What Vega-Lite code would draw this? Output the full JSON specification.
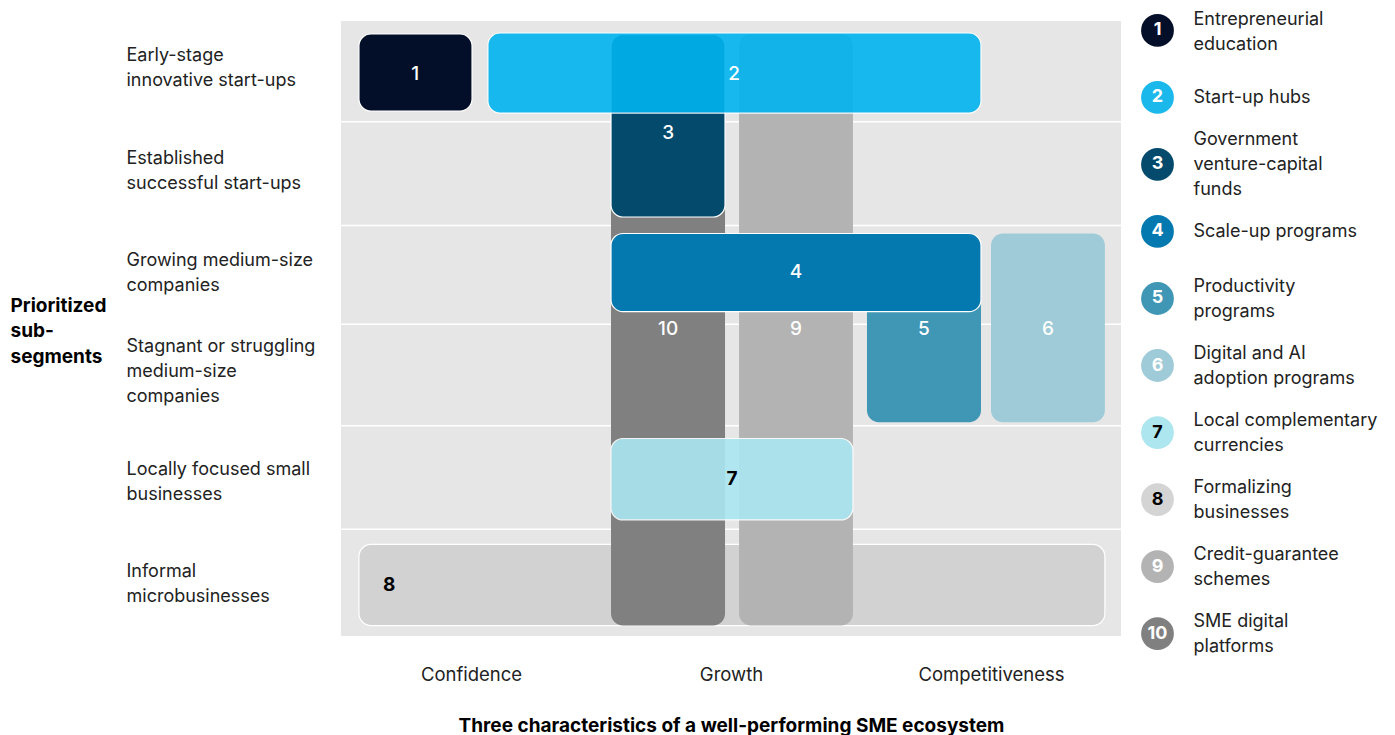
{
  "$schema": "https://vega.github.io/schema/vega-lite/v6.json",
  "background": "white",
  "padding": {"left": 10, "top": 10, "right": 5, "bottom": 5},
  "spacing": 17,
  "config": {
    "font": "Inter",
    "view": {"stroke": null},
    "axis": {"domain": false, "ticks": false, "tickSize": 0, "grid": false}
  },
  "resolve": {"scale": {"color": "independent", "x": "independent", "y": "independent"}},
  "datasets": {
    "boxes": [
      {"id": "8", "x0": 0.069, "x1": 2.938, "y0": 5.107, "y1": 5.898, "lx": 0.185, "ly": 5.502},
      {"id": "10", "x0": 1.0385, "x1": 1.477, "y0": 0.127, "y1": 5.898, "lx": 1.258, "ly": 3.0},
      {"id": "9", "x0": 1.531, "x1": 1.969, "y0": 0.127, "y1": 5.898, "lx": 1.75, "ly": 3.0},
      {"id": "3", "x0": 1.0385, "x1": 1.477, "y0": 0.13, "y1": 1.912, "lx": 1.258, "ly": 1.093},
      {"id": "5", "x0": 2.023, "x1": 2.4615, "y0": 2.073, "y1": 3.915, "lx": 2.242, "ly": 3.0},
      {"id": "6", "x0": 2.5, "x1": 2.938, "y0": 2.073, "y1": 3.915, "lx": 2.719, "ly": 3.0},
      {"id": "1", "x0": 0.069, "x1": 0.504, "y0": 0.127, "y1": 0.878, "lx": 0.285, "ly": 0.517},
      {"id": "2", "x0": 0.565, "x1": 2.4615, "y0": 0.117, "y1": 0.898, "lx": 1.512, "ly": 0.517},
      {"id": "4", "x0": 1.0385, "x1": 2.4615, "y0": 2.073, "y1": 2.836, "lx": 1.75, "ly": 2.449},
      {"id": "7", "x0": 1.0385, "x1": 1.969, "y0": 4.073, "y1": 4.868, "lx": 1.504, "ly": 4.468}
    ],
    "rows": [{"y": 0.982}, {"y": 1.995}, {"y": 2.959}, {"y": 3.948}, {"y": 4.959}],
    "legend": [
      {"num": "1", "label": "Entrepreneurial|education"},
      {"num": "2", "label": "Start-up hubs"},
      {"num": "3", "label": "Government|venture-capital|funds"},
      {"num": "4", "label": "Scale-up programs"},
      {"num": "5", "label": "Productivity|programs"},
      {"num": "6", "label": "Digital and AI|adoption programs"},
      {"num": "7", "label": "Local complementary|currencies"},
      {"num": "8", "label": "Formalizing|businesses"},
      {"num": "9", "label": "Credit-guarantee|schemes"},
      {"num": "10", "label": "SME digital|platforms"}
    ]
  },
  "hconcat": [
    {
      "width": 780,
      "height": 615,
      "view": {"fill": "#e6e6e6", "stroke": null},
      "layer": [
        {
          "data": {"name": "rows"},
          "mark": {"type": "rule", "color": "white", "strokeWidth": 1.5},
          "encoding": {
            "y": {
              "field": "y", "type": "quantitative",
              "scale": {"domain": [0, 6], "reverse": true, "nice": false, "zero": false},
              "axis": {
                "values": [0.332, 1.337, 2.341, 3.18, 4.371, 5.366],
                "labelExpr": "datum.value < 1 ? ['Early-stage', 'innovative start-ups'] : datum.value < 2 ? ['Established', 'successful start-ups'] : datum.value < 3 ? ['Growing medium-size', 'companies'] : datum.value < 4 ? ['Stagnant or struggling', 'medium-size', 'companies'] : datum.value < 5 ? ['Locally focused small', 'businesses'] : ['Informal', 'microbusinesses']",
                "labelAlign": "left", "labelBaseline": "middle", "labelPadding": 215,
                "labelFontSize": 18, "labelColor": "#222222", "labelLineHeight": 25,
                "labelLimit": 400, "labelOverlap": false, "labelFlush": false,
                "title": ["Prioritized", "sub-", "segments"],
                "titleAngle": 0, "titleAlign": "left", "titleBaseline": "middle",
                "titleX": -331, "titleY": 284, "titleFontSize": 19, "titleFontWeight": "bold",
                "titleColor": "#000000", "titleLineHeight": 25.5
              }
            }
          }
        },
        {
          "data": {"name": "boxes"},
          "mark": {"type": "rect", "cornerRadius": 12, "stroke": "white"},
          "encoding": {
            "x": {
              "field": "x0", "type": "quantitative",
              "scale": {"domain": [0, 3], "nice": false, "zero": false},
              "axis": {
                "values": [0.5, 1.5, 2.5],
                "labelExpr": "datum.value < 1 ? 'Confidence' : datum.value < 2 ? 'Growth' : 'Competitiveness'",
                "labelFontSize": 18.5, "labelColor": "#222222", "labelPadding": 38,
                "labelBaseline": "middle", "labelFlush": false, "labelOverlap": false,
                "title": "Three characteristics of a well-performing SME ecosystem",
                "titleFontSize": 19, "titleFontWeight": "bold", "titleColor": "#000000",
                "titleY": 89, "titleBaseline": "middle"
              }
            },
            "x2": {"field": "x1"},
            "y": {"field": "y0", "type": "quantitative"},
            "y2": {"field": "y1"},
            "color": {
              "field": "id", "type": "nominal",
              "scale": {
                "domain": ["1", "2", "3", "4", "5", "6", "7", "8", "9", "10"],
                "range": ["#030f28", "#00b4ee", "#044a6c", "#0479b0", "#3f96b5", "#9ecbd7", "#aae6f0", "#d2d2d2", "#b3b3b3", "#808080"]
              },
              "legend": null
            },
            "opacity": {"condition": {"test": "datum.id == '2' || datum.id == '7'", "value": 0.9}, "value": 1},
            "strokeWidth": {"condition": {"test": "indexof(['5','6','9','10'], datum.id) >= 0", "value": 0}, "value": 1.2}
          }
        },
        {
          "data": {"name": "boxes"},
          "transform": [{"filter": "datum.id != '7' && datum.id != '8'"}],
          "mark": {"type": "text", "fontSize": 19, "fontWeight": 500, "color": "white", "align": "center", "baseline": "middle"},
          "encoding": {
            "x": {"field": "lx", "type": "quantitative"},
            "y": {"field": "ly", "type": "quantitative"},
            "text": {"field": "id"}
          }
        },
        {
          "data": {"name": "boxes"},
          "transform": [{"filter": "datum.id == '7' || datum.id == '8'"}],
          "mark": {"type": "text", "fontSize": 19, "fontWeight": "bold", "color": "#000000", "align": "center", "baseline": "middle"},
          "encoding": {
            "x": {"field": "lx", "type": "quantitative"},
            "y": {"field": "ly", "type": "quantitative"},
            "text": {"field": "id"}
          }
        }
      ]
    },
    {
      "width": 37,
      "height": 622,
      "data": {"name": "legend"},
      "encoding": {
        "y": {
          "field": "label", "type": "ordinal", "sort": null,
          "scale": {"type": "point", "padding": 0.14},
          "axis": {
            "orient": "right", "title": null,
            "labelExpr": "split(datum.label, '|')",
            "labelPadding": 17, "labelFontSize": 18, "labelColor": "#222222",
            "labelLineHeight": 25, "labelBaseline": "middle", "labelAlign": "left",
            "labelLimit": 400, "labelOverlap": false,
            "labelOffset": {
              "condition": [
                {"test": "datum.value == 'Entrepreneurial|education'", "value": -10.5},
                {"test": "length(split(datum.value, '|')) == 3", "value": -25},
                {"test": "length(split(datum.value, '|')) == 2", "value": -12}
              ],
              "value": 0
            }
          }
        }
      },
      "layer": [
        {
          "mark": {"type": "circle", "size": 1075, "opacity": 1},
          "encoding": {
            "color": {
              "field": "num", "type": "nominal",
              "scale": {
                "domain": ["1", "2", "3", "4", "5", "6", "7", "8", "9", "10"],
                "range": ["#030f28", "#1bb8ec", "#044a6c", "#0479b0", "#3f96b5", "#9ecbd7", "#aee6f0", "#d4d4d4", "#b3b3b3", "#808080"]
              },
              "legend": null
            }
          }
        },
        {
          "mark": {"type": "text", "fontSize": 18, "fontWeight": "bold", "align": "center", "baseline": "middle"},
          "encoding": {
            "text": {"field": "num"},
            "color": {"condition": {"test": "datum.num == '7' || datum.num == '8'", "value": "#000000"}, "value": "white"}
          }
        }
      ]
    }
  ]
}
